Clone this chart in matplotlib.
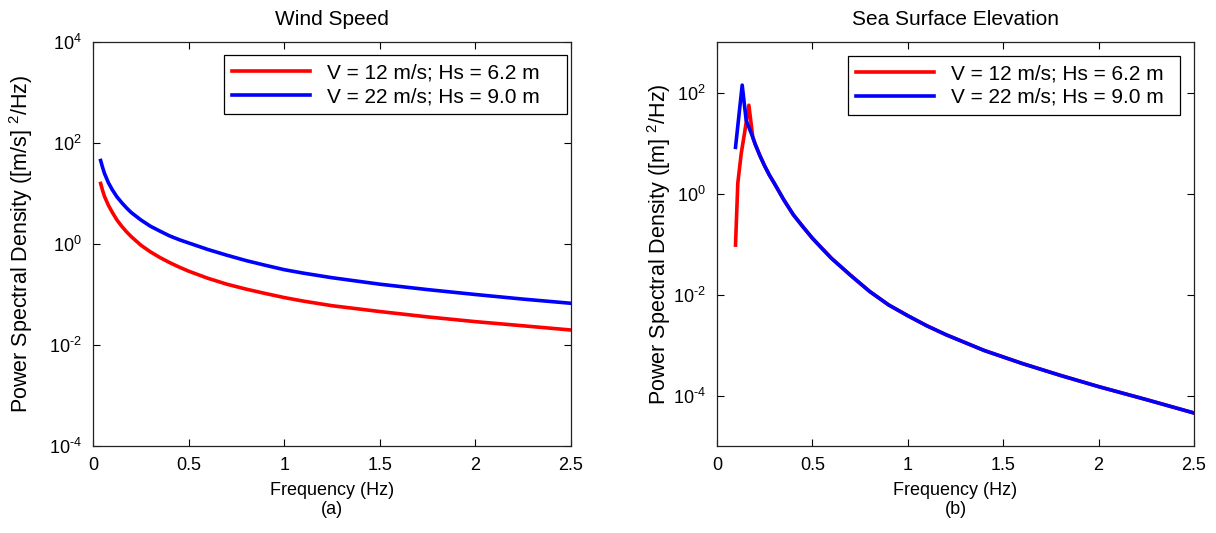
import numpy as np
import matplotlib
matplotlib.use("Agg")
import matplotlib.pyplot as plt
from matplotlib.ticker import FixedLocator, NullLocator, FuncFormatter

plt.rcParams["font.family"] = ["Liberation Sans", "DejaVu Sans"]
plt.rcParams["mathtext.fontset"] = "custom"
plt.rcParams["mathtext.rm"] = "Liberation Sans"
plt.rcParams["mathtext.it"] = "Liberation Sans:italic"
plt.rcParams["mathtext.bf"] = "Liberation Sans:bold"

labels = ["V = 12 m/s; Hs = 6.2 m", "V = 22 m/s; Hs = 9.0 m"]

# wind speed spectra
wind_freq = [0.04, 0.05, 0.06, 0.08, 0.1, 0.125, 0.15, 0.175, 0.2, 0.25,
             0.3, 0.35, 0.4, 0.45, 0.5, 0.6, 0.7, 0.8, 0.9, 1.0,
             1.1, 1.25, 1.5, 1.75, 2.0, 2.25, 2.5]
wind_psd_12 = [15.8, 11.5, 8.8, 5.9, 4.3, 3.0, 2.25, 1.75, 1.4, 0.95,
               0.70, 0.54, 0.43, 0.35, 0.29, 0.21, 0.16, 0.128, 0.105, 0.087,
               0.074, 0.060, 0.046, 0.036, 0.029, 0.024, 0.0198]
wind_psd_22 = [45, 33, 25, 16.5, 12, 8.6, 6.6, 5.2, 4.2, 3.0,
               2.25, 1.8, 1.45, 1.22, 1.05, 0.78, 0.60, 0.47, 0.38, 0.31,
               0.265, 0.215, 0.16, 0.125, 0.10, 0.081, 0.067]

# sea surface elevation spectra: separate peaks, common tail
sea_head_freq_12 = [0.097, 0.109, 0.127, 0.144, 0.167]
sea_head_psd_12 = [0.095, 1.6, 6.2, 15.5, 56]
sea_head_freq_22 = [0.097, 0.132, 0.153]
sea_head_psd_22 = [8.2, 140, 28]
sea_tail_freq = [0.1875, 0.2, 0.225, 0.25, 0.275, 0.3, 0.35, 0.4, 0.45, 0.5,
                 0.55, 0.6, 0.7, 0.8, 0.9, 1.0, 1.1, 1.2, 1.4, 1.6,
                 1.8, 2.0, 2.25, 2.5]
sea_tail_psd = [13, 9.5, 5.6, 3.5, 2.3, 1.6, 0.75, 0.38, 0.22, 0.13,
                0.082, 0.052, 0.024, 0.0115, 0.0062, 0.0038, 0.0024, 0.0016, 7.8e-4, 4.3e-4,
                2.5e-4, 1.5e-4, 8.3e-5, 4.5e-5]

xticks = [0, 0.5, 1, 1.5, 2, 2.5]


def log_label(v, pos):
    e = int(round(np.log10(v)))
    s = str(e).replace("-", r"\text{-}")
    return r"$\mathregular{10^{%s}}$" % s


fig = plt.figure(figsize=(12.16, 5.33), dpi=100)
ax1 = fig.add_axes([93 / 1216, 87 / 533, 478 / 1216, 404 / 533])
ax2 = fig.add_axes([717 / 1216, 87 / 533, 477 / 1216, 404 / 533])

lw = 2.6
ax1.plot(wind_freq, wind_psd_12, color="#ff0000", lw=lw, label=labels[0])
ax1.plot(wind_freq, wind_psd_22, color="#0000ff", lw=lw, label=labels[1])

ax2.plot(sea_head_freq_12 + sea_tail_freq, sea_head_psd_12 + sea_tail_psd,
         color="#ff0000", lw=lw, label=labels[0])
ax2.plot(sea_head_freq_22 + sea_tail_freq, sea_head_psd_22 + sea_tail_psd,
         color="#0000ff", lw=lw, label=labels[1])

setup = [
    (ax1, "Wind Speed", "(a)", r"Power Spectral Density ([m/s] $^{2}$/Hz)",
     (1e-4, 1e4), [1e-4, 1e-2, 1e0, 1e2, 1e4], (0.274, 0.5, 0.718, 0.468), -0.121),
    (ax2, "Sea Surface Elevation", "(b)", r"Power Spectral Density ([m] $^{2}$/Hz)",
     (1e-5, 1e3), [1e-4, 1e-2, 1e0, 1e2], (0.274, 0.5, 0.697, 0.466), -0.092),
]
for ax, title, tag, ylab, ylim, yt, anchor, ylx in setup:
    ax.set_yscale("log")
    ax.set_xlim(0, 2.5)
    ax.set_ylim(*ylim)
    ax.yaxis.set_major_locator(FixedLocator(yt))
    ax.yaxis.set_minor_locator(NullLocator())
    ax.yaxis.set_major_formatter(FuncFormatter(log_label))
    ax.set_xticks(xticks)
    ax.xaxis.set_major_formatter(FuncFormatter(lambda v, p: "%g" % v))
    ax.tick_params(direction="in", length=5, width=0.8, top=True, right=True,
                   labelsize=13, pad=8, colors="k")
    for s in ax.spines.values():
        s.set_color("#222222")
        s.set_linewidth(0.9)
    ax.set_title(title, fontsize=15, pad=12)
    ax.set_xlabel("Frequency (Hz)\n" + tag, fontsize=13, linespacing=1.15, labelpad=6)
    ax.set_ylabel(ylab, fontsize=15.5)
    ax.yaxis.set_label_coords(ylx, 0.5)
    leg = ax.legend(loc="upper right", bbox_to_anchor=anchor, mode="expand",
                    fontsize=15, handlelength=3.75, fancybox=False, framealpha=1,
                    edgecolor="k", borderpad=0.4, labelspacing=0.23,
                    handletextpad=0.8, borderaxespad=0)
    leg.get_frame().set_linewidth(0.9)

fig.savefig("out.png", dpi=100)
